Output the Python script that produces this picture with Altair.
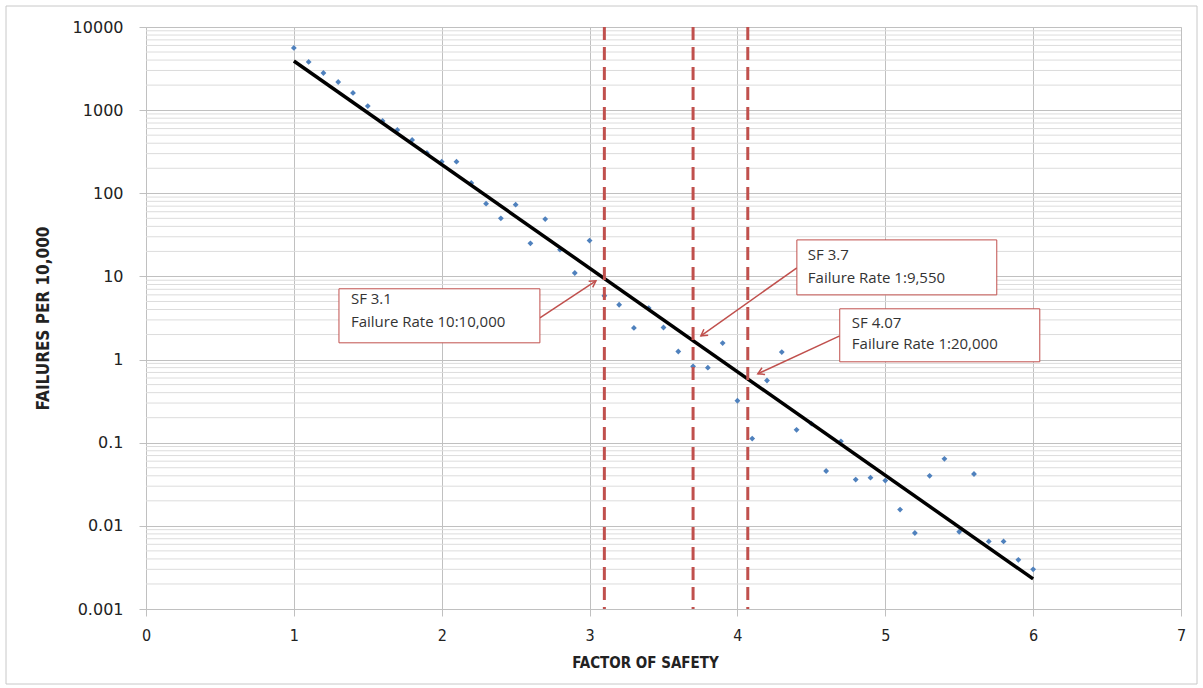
import math
import altair as alt
import pandas as pd

# ---- data ----
fs_x = [1.0, 1.1, 1.2, 1.3, 1.4, 1.5, 1.6, 1.7, 1.8, 1.9,
        2.0, 2.1, 2.2, 2.3, 2.4, 2.5, 2.6, 2.7, 2.8, 2.9,
        3.0, 3.1, 3.2, 3.3, 3.4, 3.5, 3.6, 3.7, 3.8, 3.9,
        4.0, 4.1, 4.2, 4.3, 4.4, 4.5, 4.6, 4.7, 4.8, 4.9,
        5.0, 5.1, 5.2, 5.3, 5.4, 5.5, 5.6, 5.7, 5.8, 5.9, 6.0]
failures = [5600, 3800, 2800, 2180, 1610, 1120, 740, 578, 438, 306,
            240, 240, 133, 75, 50, 73, 25, 49, 21, 11,
            27, 5.85, 4.56, 2.4, 4.16, 2.43, 1.25, 0.83, 0.8, 1.58,
            0.32, 0.112, 0.56, 1.23, 0.143, 0.17, 0.0457, 0.104, 0.036, 0.038,
            0.035, 0.0157, 0.0082, 0.040, 0.064, 0.0085, 0.042, 0.0065, 0.0065, 0.0039, 0.003]

trend_x = [1.0, 6.0]
trend_y = [3900, 0.0023]

sf_marks = [3.1, 3.7, 4.07]

note_line1 = ["SF 3.1", "SF 3.7", "SF 4.07"]
note_line2 = ["Failure Rate 10:10,000", "Failure Rate 1:9,550", "Failure Rate 1:20,000"]

x_ticks = [0, 1, 2, 3, 4, 5, 6, 7]
y_ticks = [0.001, 0.01, 0.1, 1, 10, 100, 1000, 10000]

# annotation placement (data coordinates)
box_x1 = [1.305, 4.402, 4.692]
box_x2 = [2.664, 5.754, 6.045]
box_y1 = [7.1, 27.5, 4.08]
box_y2 = [1.59, 6.0, 0.94]
text_x = [1.386, 4.476, 4.774]
text_y1 = [5.4, 17.9, 2.76]
text_y2 = [2.8, 9.7, 1.55]
arr_x0 = [2.664, 4.402, 4.692]
arr_y0 = [3.18, 12.7, 1.93]
arr_x1 = [3.043, 3.753, 4.138]
arr_y1 = [8.85, 1.93, 0.675]

W, H = 1035, 582
RED = "#C0504D"
GRID = "#c0c0c0"
MINOR = "#dcdcdc"
LABEL_FONT = "Liberation Sans Narrow, DejaVu Sans Condensed, sans-serif"


def px(x):
    return x / 7 * W


def py(v):
    return (4 - math.log10(v)) / 7 * H


angles = []
for a, b, c, d in zip(arr_x0, arr_y0, arr_x1, arr_y1):
    dx = px(c) - px(a)
    dy = py(d) - py(b)
    angles.append(math.degrees(math.atan2(dx, -dy)) % 360)

pts = pd.DataFrame({"fs": fs_x, "fail": failures})
trend = pd.DataFrame({"fs": trend_x, "fail": trend_y})
sf = pd.DataFrame({"fs": sf_marks})
minor_vals = [m * 10 ** e for e in range(-3, 4) for m in range(2, 10)]
minor = pd.DataFrame({"fail": minor_vals})
boxes = pd.DataFrame({"fs": box_x1, "fs2": box_x2, "fail": box_y1, "fail2": box_y2})
texts = pd.DataFrame({"fs": text_x * 2, "fail": text_y1 + text_y2, "t": note_line1 + note_line2})
arrows = pd.DataFrame({"x0": arr_x0, "y0": arr_y0, "fs": arr_x1, "fail": arr_y1, "ang": angles})
one = pd.DataFrame({"a": [0]})

xs = alt.Scale(domain=[0, 7], nice=False, zero=False)
ys = alt.Scale(type="log", domain=[0.001, 10000], nice=False)

x_axis = alt.Axis(
    values=x_ticks, title="FACTOR OF SAFETY", grid=True, gridColor=GRID,
    domainColor=GRID, tickColor=GRID, tickSize=7, labelPadding=11, labelFlush=False,
    labelFont=LABEL_FONT, labelFontSize=16, labelColor="#222",
    titleFont=LABEL_FONT, titleFontSize=15, titleFontWeight="bold",
    titleColor="#222", titlePadding=12, titleX=499, format="d")
y_axis = alt.Axis(
    values=y_ticks, title="FAILURES PER 10,000", grid=True, gridColor=GRID,
    domainColor=GRID, tickColor=GRID, tickSize=7, labelPadding=16, labelFlush=False,
    labelFont="DejaVu Sans", labelFontSize=16, labelColor="#222",
    titleFont=LABEL_FONT, titleFontSize=17, titleFontWeight="bold",
    titleColor="#222", titlePadding=20, format="~g")

X = alt.X("fs:Q", scale=xs, axis=x_axis, title="FACTOR OF SAFETY")
Y = alt.Y("fail:Q", scale=ys, axis=y_axis, title="FAILURES PER 10,000")

frame = alt.Chart(one).mark_rect(fill=None, stroke="#c8c8c8", strokeWidth=1).encode(
    x=alt.value(-140), x2=alt.value(1051), y=alt.value(-21), y2=alt.value(657)
)

minor_grid = alt.Chart(minor).mark_rule(color=MINOR, strokeWidth=1).encode(y=Y)

points = alt.Chart(pts).mark_point(
    shape="diamond", filled=True, color="#4F81BD", size=34, opacity=1
).encode(x=X, y=Y)

line = alt.Chart(trend).mark_line(color="black", strokeWidth=3.5).encode(x=X, y=Y)

dashes = alt.Chart(sf).mark_rule(color=RED, strokeWidth=3, strokeDash=[13, 7]).encode(x=X)

arrow_lines = alt.Chart(arrows).mark_rule(color=RED, strokeWidth=1.5).encode(
    x=X, x2="x0:Q", y=Y, y2="y0:Q",
)

arrow_heads = alt.Chart(arrows).mark_point(
    shape="M -0.7 1.2 L 0 0 L 0.7 1.2", filled=False, color=RED,
    strokeWidth=1.5, size=110, opacity=1
).encode(x=X, y=Y, angle=alt.Angle("ang:Q", scale=None))

box_marks = alt.Chart(boxes).mark_rect(fill="white", stroke=RED, strokeWidth=1).encode(
    x=X, x2="fs2:Q", y=Y, y2="fail2:Q",
)

text_marks = alt.Chart(texts).mark_text(
    align="left", baseline="middle", font="Open Sans", fontSize=15, color="#333"
).encode(x=X, y=Y, text="t:N")

chart = alt.layer(
    frame, minor_grid, points, line, dashes, arrow_lines, arrow_heads, box_marks, text_marks
).properties(
    width=W, height=H,
    autosize=alt.AutoSizeParams(type="none"),
    padding={"left": 146, "top": 27, "right": 22, "bottom": 79},
).configure_view(stroke=None).configure(background="white")

chart.save("out.html", embed_options={"renderer": "svg", "actions": False})
